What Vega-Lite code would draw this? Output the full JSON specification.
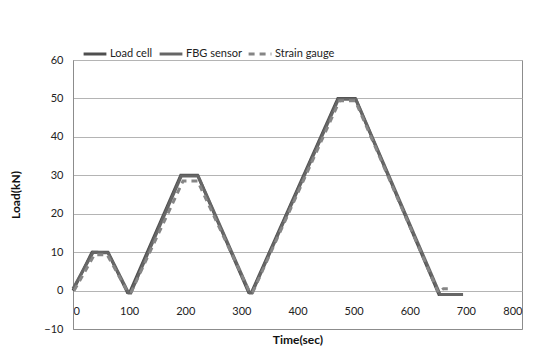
{
  "$schema": "https://vega.github.io/schema/vega-lite/v6.json",
  "width": 449,
  "height": 269,
  "autosize": {"type": "none"},
  "padding": {"left": 73, "top": 60, "right": 23, "bottom": 31},
  "background": "white",
  "config": {
    "font": "Lato",
    "view": {"stroke": "#8c8c8c", "strokeWidth": 1},
    "axis": {"labelFont": "Lato", "titleFont": "Lato", "labelColor": "#222", "titleColor": "#111", "labelFontSize": 11, "titleFontSize": 12, "titleFontWeight": "bold", "gridColor": "#b4b4b4", "gridWidth": 1, "domainColor": "#8c8c8c", "ticks": false, "tickSize": 0}
  },
  "data": {"values": [
    {"series": "Load cell", "t": 0, "load": 0},
    {"series": "Load cell", "t": 34, "load": 10},
    {"series": "Load cell", "t": 62, "load": 10},
    {"series": "Load cell", "t": 97, "load": -0.5},
    {"series": "Load cell", "t": 101, "load": -0.5},
    {"series": "Load cell", "t": 192, "load": 30},
    {"series": "Load cell", "t": 222, "load": 30},
    {"series": "Load cell", "t": 313, "load": -0.5},
    {"series": "Load cell", "t": 318, "load": -0.5},
    {"series": "Load cell", "t": 472, "load": 50},
    {"series": "Load cell", "t": 503, "load": 50},
    {"series": "Load cell", "t": 652, "load": -1},
    {"series": "Load cell", "t": 694, "load": -1},
    {"series": "FBG sensor", "t": 0, "load": 0.5},
    {"series": "FBG sensor", "t": 36, "load": 10},
    {"series": "FBG sensor", "t": 63, "load": 9.8},
    {"series": "FBG sensor", "t": 99, "load": -0.6},
    {"series": "FBG sensor", "t": 103, "load": -0.6},
    {"series": "FBG sensor", "t": 193, "load": 29.8},
    {"series": "FBG sensor", "t": 223, "load": 29.8},
    {"series": "FBG sensor", "t": 315, "load": -0.6},
    {"series": "FBG sensor", "t": 319, "load": -0.6},
    {"series": "FBG sensor", "t": 473, "load": 49.8},
    {"series": "FBG sensor", "t": 504, "load": 49.8},
    {"series": "FBG sensor", "t": 654, "load": -1},
    {"series": "FBG sensor", "t": 695, "load": -1},
    {"series": "Strain gauge", "t": 2, "load": 0},
    {"series": "Strain gauge", "t": 38, "load": 9.3},
    {"series": "Strain gauge", "t": 61, "load": 9.3},
    {"series": "Strain gauge", "t": 98, "load": -0.5},
    {"series": "Strain gauge", "t": 104, "load": -0.3},
    {"series": "Strain gauge", "t": 196, "load": 28.5},
    {"series": "Strain gauge", "t": 222, "load": 28.5},
    {"series": "Strain gauge", "t": 315, "load": -0.5},
    {"series": "Strain gauge", "t": 320, "load": -0.5},
    {"series": "Strain gauge", "t": 475, "load": 49.4},
    {"series": "Strain gauge", "t": 503, "load": 49.4},
    {"series": "Strain gauge", "t": 651, "load": -0.5},
    {"series": "Strain gauge", "t": 660, "load": 0.5},
    {"series": "Strain gauge", "t": 676, "load": 0.5}
  ]},
  "mark": {"type": "line", "strokeWidth": 3},
  "encoding": {
    "x": {"field": "t", "type": "quantitative", "title": "Time(sec)",
      "scale": {"domain": [0, 800], "nice": false},
      "axis": {"values": [0,100,200,300,400,500,600,700,800], "grid": false, "labelPadding": -24, "titlePadding": 5, "domain": true}},
    "y": {"field": "load", "type": "quantitative", "title": "Load(kN)",
      "scale": {"domain": [-10, 60], "nice": false},
      "axis": {"values": [-10,0,10,20,30,40,50,60], "labelPadding": 10, "titlePadding": 21}},
    "color": {"field": "series", "type": "nominal",
      "scale": {"domain": ["Load cell", "FBG sensor", "Strain gauge"], "range": ["#4f4f4f", "#666666", "#858585"]},
      "legend": {"title": null, "orient": "none", "legendX": 9, "legendY": -19, "direction": "horizontal", "symbolType": "stroke", "symbolSize": 520, "symbolStrokeWidth": 3, "labelFontSize": 11, "labelFont": "Lato", "labelColor": "#222", "columnPadding": 0, "labelOffset": 2}},
    "strokeDash": {"field": "series", "type": "nominal",
      "scale": {"domain": ["Load cell", "FBG sensor", "Strain gauge"], "range": [[1,0],[1,0],[6,5]]},
      "legend": null}
  }
}
